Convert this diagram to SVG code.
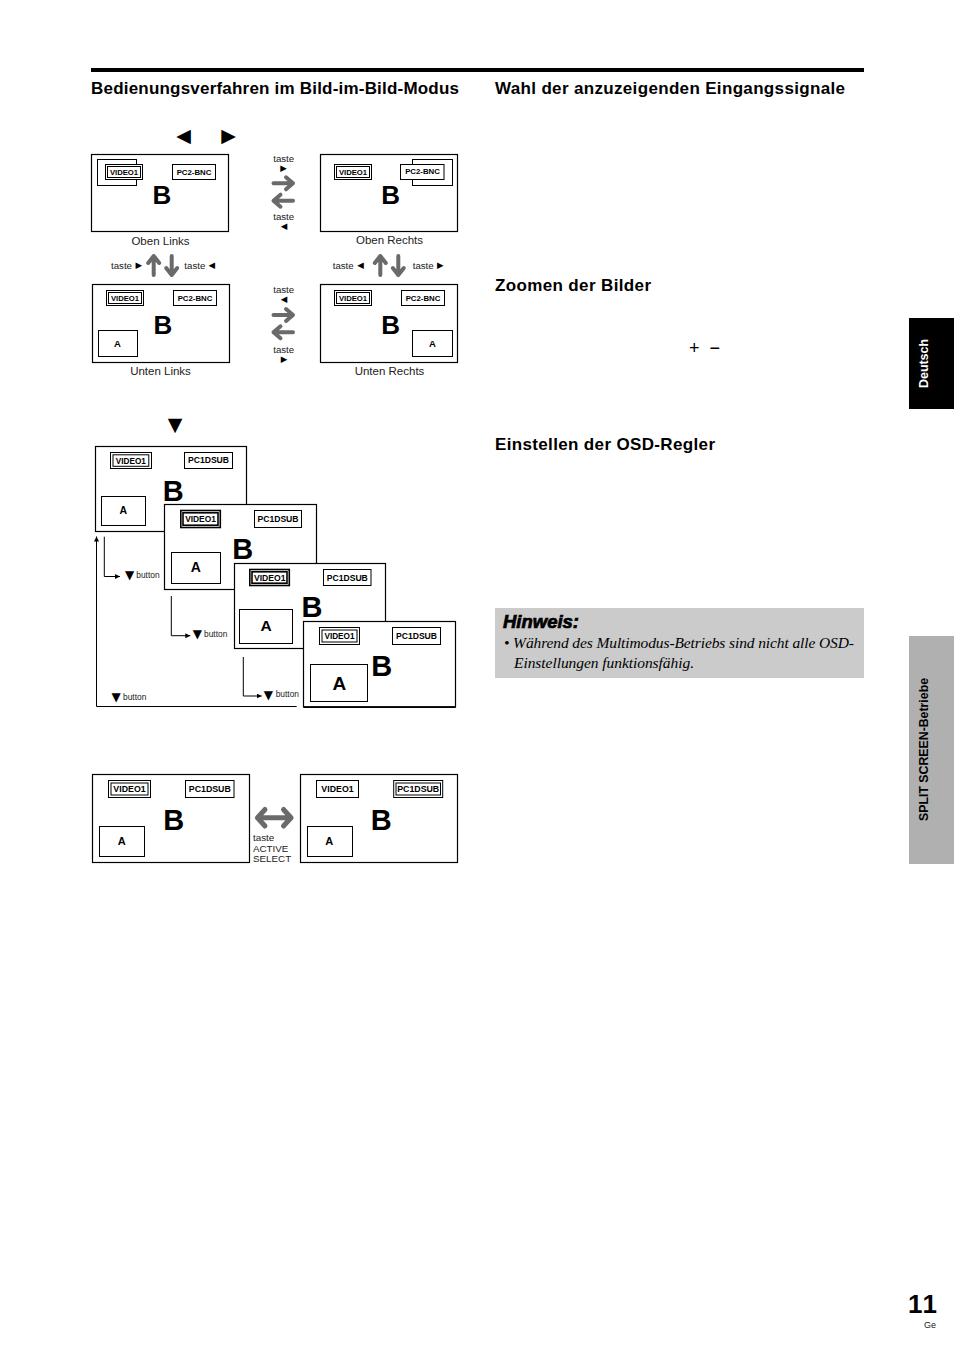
<svg xmlns="http://www.w3.org/2000/svg" width="954" height="1351" viewBox="0 0 954 1351">
<style>
text{font-family:"Liberation Sans",Arial,sans-serif;fill:#000}
.h{font-size:17px;font-weight:700}
.box{fill:#fff;stroke:#000;stroke-width:1.2}
.tag{fill:#fff;stroke:#000;stroke-width:1}
.in{fill:none;stroke:#000;stroke-width:1}
.thick{fill:none;stroke:#000;stroke-width:1.6}
.lb{font-weight:700;text-anchor:middle}
.big{font-weight:700;text-anchor:middle}
.m{text-anchor:middle}
.t{font-size:9.7px;fill:#222}
.cap{font-size:11.500px;fill:#222;text-anchor:middle}
.btn{font-size:8.400px;fill:#222}
.g{font-family:"DejaVu Sans",sans-serif;text-anchor:middle}
.con{fill:none;stroke:#000;stroke-width:1}
.ga{fill:none;stroke:#6a6a6a;stroke-width:4;stroke-linecap:round;stroke-linejoin:round}
</style>
<defs>
<marker id="tip" markerWidth="6" markerHeight="6" refX="5" refY="2.5" orient="auto" markerUnits="userSpaceOnUse"><path d="M0 0L5 2.5L0 5z" fill="#000"/></marker>
<path id="ar" class="ga" d="M-10 0H9.500M2.500-6L9.500 0L2.500 6"/>
<path id="al" class="ga" d="M10 0H-9.500M-2.500-6L-9.500 0L-2.500 6"/>
<path id="au" class="ga" d="M0 9.500V-9.500M-5.500-2.500L0-9.500L5.500-2.500"/>
<path id="ad" class="ga" d="M0-9.500V9.500M-5.500 2.500L0 9.500L5.500 2.500"/>
</defs>
<rect id="top-rule" x="91" y="68" width="773" height="4" fill="#000"/>
<text class="h" x="91" y="94" textLength="368" lengthAdjust="spacing">Bedienungsverfahren im Bild-im-Bild-Modus</text>
<text class="h" x="495" y="94" textLength="350" lengthAdjust="spacing">Wahl der anzuzeigenden Eingangssignale</text>
<text class="h" x="495" y="291" textLength="156" lengthAdjust="spacing">Zoomen der Bilder</text>
<text class="h" x="495" y="450" textLength="220" lengthAdjust="spacing">Einstellen der OSD-Regler</text>
<text class="g" x="183.500" y="142" font-size="19">◀</text>
<text class="g" x="228.500" y="142" font-size="19">▶</text>
<text class="g" x="175" y="431" font-size="19">▼</text>
<text x="689" y="354" font-size="18">+</text>
<text x="709.500" y="354" font-size="18">−</text>

<g id="node-oben-links">
<rect class="box" x="91.500" y="154.500" width="137" height="77"/>
<rect class="in" x="97.500" y="159.500" width="39" height="26"/>
<rect class="tag" x="105.500" y="164.500" width="37" height="15"/><rect class="in" x="107.500" y="166.500" width="33" height="11"/>
<text class="lb" x="124" y="175" font-size="7.700">VIDEO1</text>
<rect class="tag" x="172.500" y="164.500" width="43" height="15"/>
<text class="lb" x="194" y="175" font-size="7.800">PC2-BNC</text>
<text class="big" x="162" y="203.500" font-size="26">B</text>
<text class="cap" x="160.500" y="245">Oben Links</text>
</g>
<g id="node-oben-rechts">
<rect class="box" x="320.500" y="154.500" width="137" height="77"/>
<rect class="in" x="412.500" y="159.500" width="40" height="26"/>
<rect class="tag" x="400.500" y="164.500" width="43.500" height="15"/>
<text class="lb" x="422.500" y="174" font-size="7.800">PC2-BNC</text>
<rect class="tag" x="334.500" y="164.500" width="37" height="15"/><rect class="in" x="336.500" y="166.500" width="33" height="11"/>
<text class="lb" x="353" y="175" font-size="7.700">VIDEO1</text>
<text class="big" x="390.700" y="203.500" font-size="26">B</text>
<text class="cap" x="389.500" y="244">Oben Rechts</text>
</g>
<g id="node-unten-links">
<rect class="box" x="92.500" y="284.500" width="137" height="78"/>
<rect class="tag" x="106.500" y="290.500" width="37" height="15"/><rect class="in" x="108.500" y="292.500" width="33" height="11"/>
<text class="lb" x="125" y="301" font-size="7.700">VIDEO1</text>
<rect class="tag" x="173.500" y="290.500" width="43" height="15"/>
<text class="lb" x="195" y="300.500" font-size="7.800">PC2-BNC</text>
<rect class="tag" x="98.500" y="330.500" width="39" height="26"/>
<text class="lb" x="117.500" y="347" font-size="9.500">A</text>
<text class="big" x="163" y="334" font-size="26">B</text>
<text class="cap" x="160.500" y="375">Unten Links</text>
</g>
<g id="node-unten-rechts">
<rect class="box" x="320.500" y="284.500" width="137" height="78"/>
<rect class="tag" x="334.500" y="290.500" width="37" height="15"/><rect class="in" x="336.500" y="292.500" width="33" height="11"/>
<text class="lb" x="353" y="301" font-size="7.700">VIDEO1</text>
<rect class="tag" x="401.500" y="290.500" width="43" height="15"/>
<text class="lb" x="423" y="300.500" font-size="7.800">PC2-BNC</text>
<rect class="tag" x="412.500" y="330.500" width="40" height="26"/>
<text class="lb" x="432.500" y="347" font-size="9.500">A</text>
<text class="big" x="390.700" y="334" font-size="26">B</text>
<text class="cap" x="389.500" y="375">Unten Rechts</text>
</g>

<g id="connectors-top">
<use href="#ar" x="283.500" y="183.300"/>
<use href="#al" x="283" y="200.700"/>
<use href="#ar" x="283.500" y="315"/>
<use href="#al" x="283" y="332.300"/>
<use href="#au" x="153.700" y="265.500"/>
<use href="#ad" x="171.700" y="265.500"/>
<use href="#au" x="380.300" y="265.500"/>
<use href="#ad" x="398.300" y="265.500"/>
</g>
<g id="labels-top">
<text class="t m" x="283.700" y="162">taste</text><text class="g" x="283.500" y="171" font-size="8.500">▶</text>
<text class="t m" x="283.700" y="220">taste</text><text class="g" x="284" y="229" font-size="8.500">◀</text>
<text class="t m" x="283.700" y="293">taste</text><text class="g" x="284" y="302" font-size="8.500">◀</text>
<text class="t m" x="283.700" y="353">taste</text><text class="g" x="284" y="362" font-size="8.500">▶</text>
<text class="t" x="111" y="268.500">taste</text><text class="g" x="138.800" y="267.500" font-size="8.500">▶</text>
<text class="t" x="184.300" y="268.500">taste</text><text class="g" x="211.800" y="267.500" font-size="8.500">◀</text>
<text class="t" x="332.700" y="268.500">taste</text><text class="g" x="360.500" y="267.500" font-size="8.500">◀</text>
<text class="t" x="412.700" y="268.500">taste</text><text class="g" x="440.300" y="267.500" font-size="8.500">▶</text>
</g>

<g id="node-stack-1">
<rect class="box" x="95.500" y="446.500" width="151" height="85"/>
<rect class="tag" x="110.500" y="452.500" width="41" height="16"/><rect class="in" x="113" y="454.800" width="35.800" height="11.500"/>
<text class="lb" x="130.800" y="463.500" font-size="8.200">VIDEO1</text>
<rect class="tag" x="184.500" y="452.500" width="48" height="16"/>
<text class="lb" x="208.500" y="463.300" font-size="8.600">PC1DSUB</text>
<rect class="tag" x="101.500" y="496.500" width="44" height="29"/>
<text class="lb" x="123.300" y="514" font-size="10.500">A</text>
<text class="big" x="173.300" y="500.700" font-size="29">B</text>
</g>
<g id="node-stack-2">
<rect class="box" x="164.500" y="504.500" width="152" height="85"/>
<rect class="thick" x="180.800" y="510.500" width="39.500" height="17"/><rect class="thick" x="183" y="512.800" width="35" height="12.400"/>
<text class="lb" x="200.500" y="522.300" font-size="8.400">VIDEO1</text>
<rect class="tag" x="254.500" y="510.500" width="47" height="17"/>
<text class="lb" x="278" y="522" font-size="8.600">PC1DSUB</text>
<rect class="tag" x="171.500" y="552.500" width="49" height="31"/>
<text class="lb" x="195.700" y="572" font-size="14">A</text>
<text class="big" x="242.700" y="558.700" font-size="29">B</text>
</g>
<g id="node-stack-3">
<rect class="box" x="234.500" y="563.500" width="151" height="85"/>
<rect class="thick" x="249.800" y="569.500" width="39.500" height="16"/><rect class="thick" x="252" y="571.800" width="35" height="11.400"/>
<text class="lb" x="269.700" y="580.700" font-size="8.600">VIDEO1</text>
<rect class="tag" x="323.500" y="569.500" width="47.500" height="16"/>
<text class="lb" x="347.300" y="580.500" font-size="8.600">PC1DSUB</text>
<rect class="tag" x="239.500" y="609.500" width="53" height="34"/>
<text class="lb" x="266" y="630.700" font-size="15.500">A</text>
<text class="big" x="312" y="617.300" font-size="29">B</text>
</g>
<g id="node-stack-4">
<rect class="box" x="303.500" y="621.500" width="152" height="85.300"/>
<path d="M303.500 707.300H455.700" stroke="#000" stroke-width="1.400" fill="none"/>
<rect class="tag" x="319.500" y="627.500" width="40" height="17"/><rect class="in" x="322" y="630" width="35" height="12"/>
<text class="lb" x="339.500" y="639" font-size="8.200">VIDEO1</text>
<rect class="tag" x="392.500" y="627.500" width="48" height="17"/>
<text class="lb" x="416.500" y="639" font-size="8.600">PC1DSUB</text>
<rect class="tag" x="310.500" y="664.500" width="57" height="37"/>
<text class="lb" x="339.300" y="689.500" font-size="19">A</text>
<text class="big" x="381.700" y="676" font-size="29">B</text>
</g>
<g id="connectors-stack">
<path class="con" marker-end="url(#tip)" d="M104.300 536.700V576.500H120"/>
<path class="con" marker-end="url(#tip)" d="M171.300 596V635.700H190.300"/>
<path class="con" marker-end="url(#tip)" d="M243.300 657V696H261.700"/>
<path class="con" marker-end="url(#tip)" d="M296.700 706.500H96.500V536.500"/>
</g>
<g id="labels-stack">
<text class="g" x="129.700" y="579" font-size="12">▼</text><text class="btn" x="136.300" y="577.700">button</text>
<text class="g" x="197.300" y="638" font-size="12">▼</text><text class="btn" x="204" y="637">button</text>
<text class="g" x="268.300" y="698.700" font-size="12">▼</text><text class="btn" x="275.700" y="697.300">button</text>
<text class="g" x="116" y="701" font-size="12">▼</text><text class="btn" x="123" y="699.800">button</text>
</g>

<g id="node-bottom-left">
<rect class="box" x="92.500" y="774.500" width="157" height="88"/>
<rect class="tag" x="108.500" y="780.500" width="42" height="17"/><rect class="in" x="111" y="783" width="37" height="12"/>
<text class="lb" x="129.500" y="792" font-size="8.800">VIDEO1</text>
<rect class="tag" x="185.500" y="780.500" width="48.500" height="17"/>
<text class="lb" x="209.800" y="792" font-size="8.800">PC1DSUB</text>
<rect class="tag" x="99.500" y="826.500" width="45" height="30"/>
<text class="lb" x="121.700" y="844.700" font-size="11">A</text>
<text class="big" x="173.700" y="830" font-size="29">B</text>
</g>
<g id="node-bottom-right">
<rect class="box" x="300.500" y="774.500" width="157" height="88"/>
<rect class="tag" x="316.500" y="780.500" width="42" height="17"/>
<text class="lb" x="337.500" y="792" font-size="8.800">VIDEO1</text>
<rect class="tag" x="393.700" y="780.500" width="49" height="17"/><rect class="in" x="396" y="783" width="44.500" height="12"/>
<text class="lb" x="418.200" y="792" font-size="8.800">PC1DSUB</text>
<rect class="tag" x="307.500" y="826.500" width="45" height="30"/>
<text class="lb" x="329.300" y="844.700" font-size="11">A</text>
<text class="big" x="381.300" y="830" font-size="29">B</text>
</g>
<g id="connector-bottom">
<path d="M257.500 817.700H291M265 809.500L257.500 817.700L265 826M283.500 809.500L291 817.700L283.500 826" fill="none" stroke="#6a6a6a" stroke-width="5" stroke-linecap="round" stroke-linejoin="round"/>
</g>
<g id="labels-bottom">
<text x="253" y="840.500" font-size="9.800" style="fill:#222">taste</text>
<text x="253" y="851.500" font-size="9.800" style="fill:#222">ACTIVE</text>
<text x="253" y="862" font-size="9.800" style="fill:#222">SELECT</text>
</g>

<g id="hinweis">
<rect x="495" y="608" width="369" height="70" fill="#cbcbcb"/>
<text x="503" y="628" font-size="17.500" font-weight="700" font-style="italic" stroke="#000" stroke-width=".7" textLength="76" lengthAdjust="spacingAndGlyphs">Hinweis:</text>
<text x="504" y="648" style="font-family:'Liberation Serif',serif;font-style:italic" font-size="15.500" textLength="350" lengthAdjust="spacing">• Während des Multimodus-Betriebs sind nicht alle OSD-</text>
<text x="514" y="668" style="font-family:'Liberation Serif',serif;font-style:italic" font-size="15.500" textLength="180" lengthAdjust="spacing">Einstellungen funktionsfähig.</text>
</g>
<g id="tab-deutsch">
<rect x="909" y="318" width="45" height="91" fill="#000"/>
<text transform="translate(928.300 388) rotate(-90)" font-size="13.500" font-weight="700" style="fill:#fff" textLength="49" lengthAdjust="spacingAndGlyphs">Deutsch</text>
</g>
<g id="tab-split">
<rect x="909" y="636" width="45" height="228" fill="#b0b0b0"/>
<text transform="translate(928.300 821) rotate(-90)" font-size="13.500" font-weight="700" textLength="143" lengthAdjust="spacingAndGlyphs">SPLIT SCREEN-Betriebe</text>
</g>
<text x="908" y="1313" font-size="26" font-weight="700" style="font-kerning:none">11</text>
<text x="924" y="1328" font-size="9" style="fill:#222">Ge</text>
</svg>
